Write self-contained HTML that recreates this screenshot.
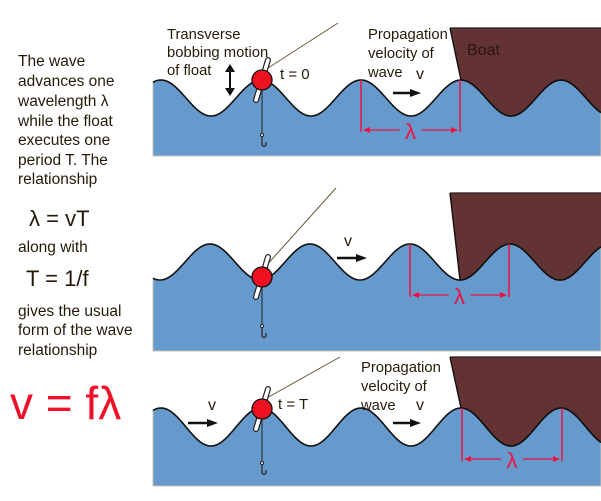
<!DOCTYPE html>
<html><head><style>
html,body{margin:0;padding:0;background:#fff;width:601px;height:501px;overflow:hidden}
svg{display:block}
text{font-family:"Liberation Sans",sans-serif;fill:#241a08}
</style></head><body>
<svg id="s" width="601" height="501" xmlns="http://www.w3.org/2000/svg">
<g font-size="15.5">
<text x="18" y="66">The wave</text>
<text x="18" y="86">advances one</text>
<text x="18" y="106">wavelength λ</text>
<text x="18" y="126">while the float</text>
<text x="18" y="145">executes one</text>
<text x="18" y="165">period T. The</text>
<text x="18" y="184">relationship</text>
<text x="18" y="252">along with</text>
<text x="18" y="316">gives the usual</text>
<text x="18" y="335">form of the wave</text>
<text x="18" y="355">relationship</text>
</g>
<text x="29" y="226" font-size="22">λ = vT</text>
<text x="26" y="286" font-size="22">T = 1/f</text>
<text x="10" y="419" font-size="46" style="fill:#f0102a">v = fλ</text>
<g id="g"></g>
</svg>
<script>
var g=document.getElementById('g'),h='';
function wave(mid,A,c,x0,x1){var d='';for(var x=x0;x<=x1;x+=1){var y=mid-A*Math.cos(2*Math.PI*(x-c)/100);d+=(x==x0?'M':'L')+x+' '+y.toFixed(2)+' ';}return d;}
function Y(mid,A,c,x){return mid-A*Math.cos(2*Math.PI*(x-c)/100);}
function panel(mid,A,c,bot,boatTop,boatX){
 var w=wave(mid,A,c,153,601);
 h+='<path d="'+w+' L601 '+bot+' L153 '+bot+' Z" fill="#6699cc" stroke="#c9c2b5" stroke-width="1"/>';
 h+='<path d="'+w+'" fill="none" stroke="#111" stroke-width="1.6"/>';
 var bx=boatX, by=Y(mid,A,c,bx);
 h+='<path d="M450 '+boatTop+' L601 '+boatTop+' L601 '+Y(mid,A,c,601)+' '+wave(mid,A,c,bx,601).replace('M','L').split('L').reverse().join('L').replace(/L$/,'')+' L'+bx+' '+by+' Z" fill="#633232"/>';
 h+='<path d="M450 '+boatTop+' L601 '+boatTop+'" stroke="#222" stroke-width="1.2"/>';
 h+='<path d="M450 '+boatTop+' L'+bx+' '+by+'" stroke="#111" stroke-width="1.4"/>';
 h+='<path d="'+wave(mid,A,c,bx,601)+'" fill="none" stroke="#111" stroke-width="1.6"/>';
}
function flt(cx,cy,lx,ly,hy){
 h+='<line x1="'+(cx+3)+'" y1="'+(cy-10)+'" x2="'+lx+'" y2="'+ly+'" stroke="#6b5a3a" stroke-width="1"/>';
 h+='<line x1="'+cx+'" y1="'+cy+'" x2="'+cx+'" y2="'+(hy-8)+'" stroke="#222" stroke-width="1"/>';
 h+='<circle cx="'+cx+'" cy="'+(hy-7)+'" r="1.5" fill="#fff" stroke="#222"/>';
 h+='<path d="M'+(cx)+' '+(hy-5)+' L'+cx+' '+(hy+3)+' Q'+(cx+2)+' '+(hy+6)+' '+(cx+4)+' '+(hy+3)+' L'+(cx+4)+' '+(hy)+'" fill="none" stroke="#222" stroke-width="1.2"/>';
 h+='<line x1="'+(cx+6)+'" y1="'+(cy-20)+'" x2="'+(cx-6)+'" y2="'+(cy+20)+'" stroke="#222" stroke-width="6" stroke-linecap="round"/>';
 h+='<line x1="'+(cx+6)+'" y1="'+(cy-20)+'" x2="'+(cx-6)+'" y2="'+(cy+20)+'" stroke="#fff" stroke-width="3.6" stroke-linecap="round"/>';
 h+='<circle cx="'+cx+'" cy="'+cy+'" r="10" fill="#ee1122" stroke="#111" stroke-width="1.3"/>';
}
function arrow(x1,x2,y,vx,vy){
 h+='<line x1="'+x1+'" y1="'+y+'" x2="'+(x2-8)+'" y2="'+y+'" stroke="#111" stroke-width="2.5"/>';
 h+='<path d="M'+x2+' '+y+' L'+(x2-11)+' '+(y-4)+' L'+(x2-11)+' '+(y+4)+' Z" fill="#111"/>';
 h+='<text x="'+vx+'" y="'+vy+'" font-size="16">v</text>';
}
function lam(xa,xb,yt,yh){
 var c='#ee1144';
 h+='<line x1="'+xa+'" y1="'+yt+'" x2="'+xa+'" y2="'+(yh+2)+'" stroke="'+c+'" stroke-width="1.5"/>';
 h+='<line x1="'+xb+'" y1="'+yt+'" x2="'+xb+'" y2="'+(yh+2)+'" stroke="'+c+'" stroke-width="1.5"/>';
 var m=(xa+xb)/2;
 h+='<line x1="'+(xa+3)+'" y1="'+yh+'" x2="'+(m-11)+'" y2="'+yh+'" stroke="'+c+'" stroke-width="1.2"/>';
 h+='<line x1="'+(m+11)+'" y1="'+yh+'" x2="'+(xb-3)+'" y2="'+yh+'" stroke="'+c+'" stroke-width="1.2"/>';
 h+='<path d="M'+(xa+2)+' '+yh+' l7 -3 l0 6z M'+(xb-2)+' '+yh+' l-7 -3 l0 6z" fill="'+c+'"/>';
 h+='<text x="'+m+'" y="'+(yh+9)+'" font-size="22" text-anchor="middle" style="fill:'+c+'">λ</text>';
}
panel(98,18,161,156,28,461);
panel(262,18,210,351,193,460);
panel(427,19,161,486,357,461);
flt(262,80,338,23,142);
flt(262,277,336,188,333);
flt(262,409,340,357,470);
arrow(393,421,93,416,79);
arrow(337,367,258,344,246);
arrow(188,218,423,208,410);
arrow(393,421,423,416,410);
lam(361,460,80,130);
lam(410,509,244,295);
lam(462,562,408,459);
var f='font-size="14.8"';
h+='<text x="167" y="39" '+f+'>Transverse</text><text x="167" y="57" '+f+'>bobbing motion</text><text x="167" y="75" '+f+'>of float</text>';
h+='<line x1="230" y1="69" x2="230" y2="91" stroke="#111" stroke-width="2"/><path d="M230 64 l-5 8 h10z M230 96 l-5 -8 h10z" fill="#111"/>';
h+='<text x="280" y="79" font-size="15">t = 0</text><text x="278" y="409" font-size="15">t = T</text>';
h+='<text x="368" y="39" '+f+'>Propagation</text><text x="368" y="58" '+f+'>velocity of</text><text x="368" y="77" '+f+'>wave</text>';
h+='<text x="361" y="372" '+f+'>Propagation</text><text x="361" y="391" '+f+'>velocity of</text><text x="361" y="410" '+f+'>wave</text>';
h+='<text x="467" y="55" font-size="16" style="fill:#2a1414">Boat</text>';
g.innerHTML=h;
</script>
</body></html>
